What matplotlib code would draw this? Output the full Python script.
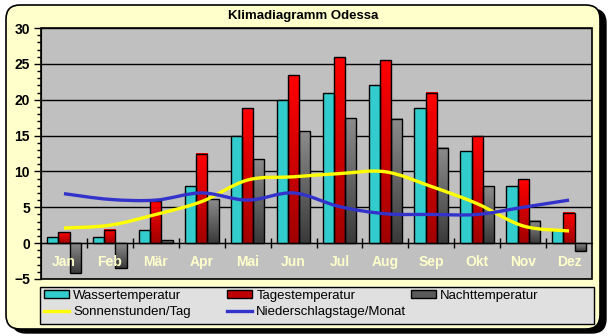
import numpy as np
import matplotlib
matplotlib.use("Agg")
import matplotlib.pyplot as plt
from matplotlib.patches import FancyBboxPatch, Rectangle, Patch, PathPatch
from matplotlib.lines import Line2D
from matplotlib.path import Path
from matplotlib.transforms import IdentityTransform
from matplotlib.ticker import MultipleLocator, FixedLocator, NullFormatter, FixedFormatter

plt.rcParams['font.family'] = ['Liberation Sans', 'DejaVu Sans']

# Monthly climate values for Odessa.
months = ["Jan", "Feb", "Mär", "Apr", "Mai", "Jun",
          "Jul", "Aug", "Sep", "Okt", "Nov", "Dez"]
wasser = [0.9, 0.9, 1.9, 8.0, 14.9, 19.9, 20.9, 22.0, 18.9, 12.9, 7.9, 1.8]
tages = [1.5, 1.9, 5.9, 12.5, 18.8, 23.4, 25.9, 25.5, 21.0, 14.9, 8.9, 4.2]
nacht = [-4.2, -3.4, 0.4, 6.1, 11.7, 15.6, 17.4, 17.3, 13.3, 7.9, 3.1, -1.1]
sonne = [2.1, 2.5, 4.0, 5.8, 8.8, 9.25, 9.7, 9.95, 7.9, 5.5, 2.4, 1.7]
regen = [6.9, 6.1, 6.0, 7.0, 6.0, 7.0, 5.1, 4.1, 4.0, 4.0, 5.0, 6.0]

W, H = 609, 336
DPI = 100


def fx(px):
    return px / W


def fy(py):
    # pixel y measured from top -> figure fraction
    return 1 - py / H


def smooth_path(x, y):
    # Catmull-Rom style Bezier through the data points (Excel "smoothed line").
    p = np.column_stack([x, y]).astype(float)
    n = len(p)
    verts = [p[0]]
    codes = [Path.MOVETO]
    for i in range(n - 1):
        p0 = p[i - 1] if i > 0 else p[i]
        p3 = p[i + 2] if i + 2 < n else p[i + 1]
        c1 = p[i] + (p[i + 1] - p0) / 6
        c2 = p[i + 1] - (p3 - p[i]) / 6
        verts += [c1, c2, p[i + 1]]
        codes += [Path.CURVE4] * 3
    return Path(verts, codes)


def gradient_bars(ax, xs, vals, width, top, bottom):
    top = np.array(matplotlib.colors.to_rgb(top))
    bottom = np.array(matplotlib.colors.to_rgb(bottom))
    t = np.linspace(0, 1, 64)[:, None]
    grad = (top * (1 - t) + bottom * t)[:, None, :]
    for x, v in zip(xs, vals):
        lo, hi = min(0, v), max(0, v)
        ax.imshow(grad, extent=[x - width / 2, x + width / 2, lo, hi],
                  origin='upper', aspect='auto', interpolation='bilinear',
                  zorder=2)
    ax.bar(xs, vals, width, fill=False, edgecolor='black', lw=1, zorder=3)


fig = plt.figure(figsize=(W / DPI, H / DPI), dpi=DPI)
fig.patch.set_facecolor('white')

# Rounded yellow frame with black shadow.
shadow = FancyBboxPatch((12, 336 - 333), 594, 324,
                        boxstyle="round,pad=0,rounding_size=14",
                        transform=IdentityTransform(), facecolor='black',
                        edgecolor='black', zorder=0)
frame = FancyBboxPatch((6, 336 - 329), 594, 324,
                       boxstyle="round,pad=0,rounding_size=14",
                       transform=IdentityTransform(), facecolor='#FFFFCC',
                       edgecolor='black', lw=1.2, zorder=1)
fig.add_artist(shadow)
fig.add_artist(frame)

ax = fig.add_axes([fx(41), fy(279), fx(592) - fx(41), fy(28) - fy(279)])
ax.set_zorder(2)
ax.set_facecolor('#C0C0C0')

x = np.arange(len(months))
bw = 0.245
ax.bar(x - bw, wasser, bw, color='#33CCCC', edgecolor='black', lw=1, zorder=3)
gradient_bars(ax, x, tages, bw, '#FF0000', '#A00000')
gradient_bars(ax, x + bw, nacht, bw, '#8C8C8C', '#3A3A3A')

ax.add_patch(PathPatch(smooth_path(x, sonne), fill=False, edgecolor='#FFFF00',
                       lw=2.4, zorder=4, capstyle='butt'))
ax.add_patch(PathPatch(smooth_path(x, regen), fill=False, edgecolor='#3333CC',
                       lw=2.4, zorder=4, capstyle='butt'))

ax.set_xlim(-0.5, 11.5)
ax.set_ylim(-5, 30)

# y axis
ax.yaxis.set_major_locator(MultipleLocator(5))
ax.yaxis.set_minor_locator(MultipleLocator(1))
ax.tick_params(axis='y', which='major', length=5, width=1, direction='out',
               labelsize=10, pad=3)
ax.tick_params(axis='y', which='minor', length=3, width=1, direction='out')
for lab in ax.get_yticklabels():
    lab.set_fontweight('bold')
ax.yaxis.grid(True, which='major', color='black', lw=1, zorder=1)
ax.set_axisbelow(True)

# category axis sits at zero, month names drawn above the bars
ax.spines['bottom'].set_position(('data', 0))
ax.spines['bottom'].set_zorder(3.5)
ax.spines['top'].set_visible(False)
ax.spines['right'].set_visible(False)
ax.xaxis.set_major_locator(FixedLocator(np.arange(0.5, 11.5, 1)))
ax.xaxis.set_major_formatter(NullFormatter())
ax.xaxis.set_minor_locator(FixedLocator(x))
ax.xaxis.set_minor_formatter(FixedFormatter(months))
ax.tick_params(axis='x', which='major', direction='inout', length=7, width=1)
ax.tick_params(axis='x', which='minor', length=0, pad=8.5, labelsize=10,
               labelcolor='#FFFFCC')
for lab in ax.xaxis.get_minorticklabels():
    lab.set_fontweight('bold')
ax.xaxis.set_zorder(6)
ax.add_patch(Rectangle((0, 0), 1, 1, transform=ax.transAxes, fill=False,
                       edgecolor='black', lw=1.2, zorder=5, clip_on=False))

fig.text(fx(303), fy(16), "Klimadiagramm Odessa", ha='center', va='center',
         fontsize=9.5, fontweight='bold', zorder=3)

# Legend box
fig.add_artist(Rectangle((fx(40), fy(324)), fx(594) - fx(40), fy(287) - fy(324),
                         transform=fig.transFigure, facecolor='#E0E0E0',
                         edgecolor='black', lw=1, zorder=2))
h_w = Patch(facecolor='#33CCCC', edgecolor='black', lw=1)
h_t = Patch(facecolor='#C00000', edgecolor='black', lw=1)
h_n = Patch(facecolor='#5A5A5A', edgecolor='black', lw=1)
h_s = Line2D([], [], color='#FFFF00', lw=2.4)
h_r = Line2D([], [], color='#3333CC', lw=2.4)
columns = [([h_w, h_s], ["Wassertemperatur", "Sonnenstunden/Tag"], 41),
           ([h_t, h_r], ["Tagestemperatur", "Niederschlagstage/Monat"], 224),
           ([h_n], ["Nachttemperatur"], 408)]
for handles, labels, left in columns:
    leg = fig.legend(handles, labels, loc='upper left',
                     bbox_to_anchor=(fx(left), fy(287)), frameon=False,
                     fontsize=9.5, handlelength=1.95, handleheight=0.55,
                     handletextpad=0.3, labelspacing=0.35, borderpad=0.2,
                     borderaxespad=0)
    leg.set_zorder(3)

fig.savefig("out.png", dpi=DPI)
